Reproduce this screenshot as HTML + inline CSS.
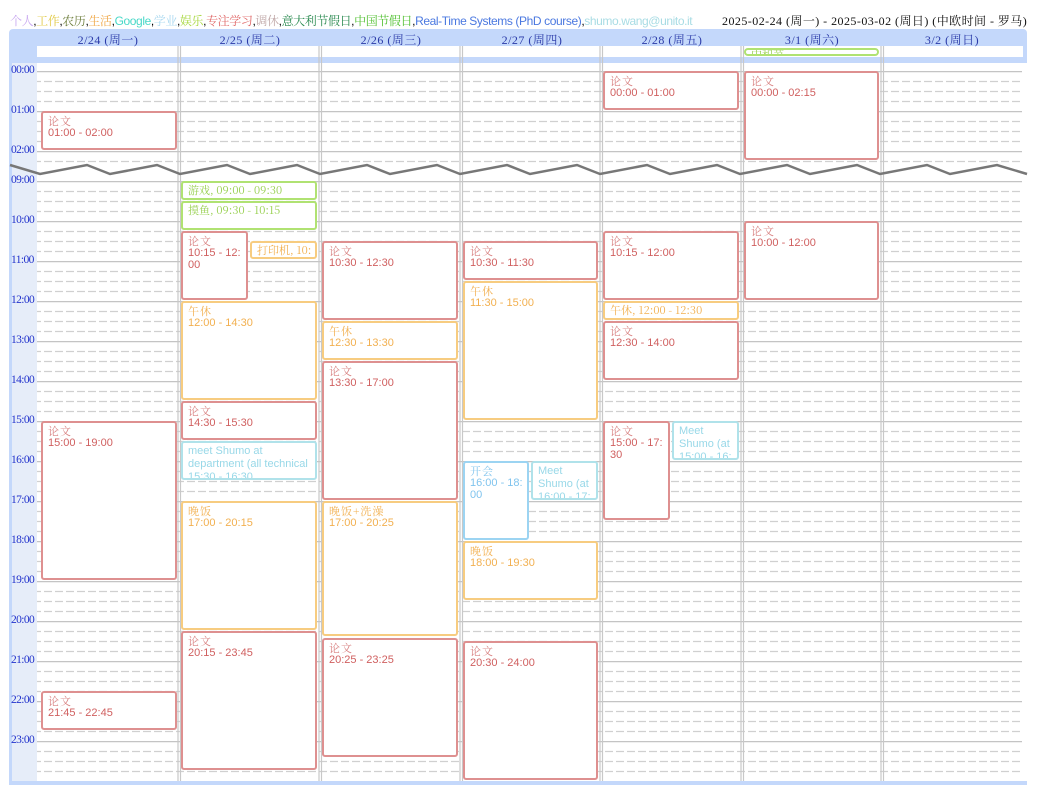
<!DOCTYPE html>
<html><head><meta charset="utf-8"><style>
*{box-sizing:border-box;margin:0;padding:0}
body{width:1043px;height:802px;background:#fff;position:relative;overflow:hidden;font-family:"Liberation Sans","Noto Sans CJK SC",sans-serif}
.abs{position:absolute}
.leg{left:10px;top:12px;font-size:12px;white-space:nowrap;font-family:"Liberation Sans","Noto Serif CJK SC",sans-serif;letter-spacing:-0.4px}
.rng{left:722px;top:12px;font-size:12px;white-space:nowrap;font-family:"Liberation Serif","Noto Serif CJK SC",serif;color:#111;letter-spacing:0.45px}
.dh{top:31px;width:140px;text-align:center;font-size:12px;color:#2a3aa8;font-family:"Liberation Serif","Noto Serif CJK SC",serif;letter-spacing:0.5px}
.tl{left:11px;font-size:11.5px;color:#2233cc;font-family:"Liberation Serif",serif;letter-spacing:-0.6px}
.ev{position:absolute;border:2px solid;border-radius:3px;background:#fff;overflow:hidden;padding:2px 0 0 5px;font-size:11px;line-height:12px;font-family:"Liberation Sans","Noto Serif CJK SC",sans-serif}
.ev b{font-weight:normal;display:block;font-family:"Noto Serif CJK SC",serif;letter-spacing:1px}
.r{border-color:#de9090;color:#d06060}
.r b{color:#d88080}
.o{border-color:#f7cc80;color:#f2b050}
.g{border-color:#b0e272;color:#98d050}
.c{border-color:#b0e2ea;color:#98d8e8}
.bl{border-color:#9cd4f2;color:#80c4ee}
.in{white-space:nowrap;font-family:"Noto Serif CJK SC",serif;padding-top:1px}
</style></head><body>
<div class="abs leg"><span style="color:#c8a8f0">个人</span>,<span style="color:#e0c840">工作</span>,<span style="color:#708040">农历</span>,<span style="color:#f0a848">生活</span>,<span style="color:#48d8c8">Google</span>,<span style="color:#a8d8f0">学业</span>,<span style="color:#a8d840">娱乐</span>,<span style="color:#e06868">专注学习</span>,<span style="color:#c0a8a8">调休</span>,<span style="color:#2a8a50">意大利节假日</span>,<span style="color:#50c030">中国节假日</span>,<span style="color:#4a78e0">Real-Time Systems (PhD course)</span>,<span style="color:#a8dce4">shumo.wang@unito.it</span></div>
<div class="abs rng">2025-02-24 (周一) - 2025-03-02 (周日) (中欧时间 - 罗马)</div>

<div class="abs" style="left:9px;top:29px;width:1018px;height:34px;background:#c4d8fb;border-radius:4px 4px 0 0"></div>
<div class="abs" style="left:37px;top:46px;width:986px;height:11px;background:#fff"></div>
<div class="abs" style="left:9px;top:63px;width:3px;height:722px;background:#c4d8fb"></div>
<div class="abs" style="left:12px;top:63px;width:25px;height:718px;background:#e6edf9"></div>
<div class="abs" style="left:9px;top:781px;width:1018px;height:4px;background:#c4d8fb"></div>

<div class="abs dh" style="left:38px">2/24 (周一)</div>
<div class="abs dh" style="left:180px">2/25 (周二)</div>
<div class="abs dh" style="left:321px">2/26 (周三)</div>
<div class="abs dh" style="left:462px">2/27 (周四)</div>
<div class="abs dh" style="left:602px">2/28 (周五)</div>
<div class="abs dh" style="left:742px">3/1 (周六)</div>
<div class="abs dh" style="left:882px">3/2 (周日)</div>

<svg class="abs" style="left:0;top:0" width="1043" height="802">
<defs>
<pattern id="gp" x="0" y="71" width="1043" height="40" patternUnits="userSpaceOnUse">
<line x1="0" y1="0.5" x2="1043" y2="0.5" stroke="#c4c4c4" stroke-width="1.5"/>
<line x1="0" y1="10.5" x2="1043" y2="10.5" stroke="#d0d0d0" stroke-width="1.2" stroke-dasharray="8,3"/>
<line x1="0" y1="20.5" x2="1043" y2="20.5" stroke="#d0d0d0" stroke-width="1.2" stroke-dasharray="8,3"/>
<line x1="0" y1="30.5" x2="1043" y2="30.5" stroke="#d0d0d0" stroke-width="1.2" stroke-dasharray="8,3"/>
</pattern>
<pattern id="gp2" x="0" y="181" width="1043" height="40" patternUnits="userSpaceOnUse">
<line x1="0" y1="0.5" x2="1043" y2="0.5" stroke="#c4c4c4" stroke-width="1.5"/>
<line x1="0" y1="10.5" x2="1043" y2="10.5" stroke="#d0d0d0" stroke-width="1.2" stroke-dasharray="8,3"/>
<line x1="0" y1="20.5" x2="1043" y2="20.5" stroke="#d0d0d0" stroke-width="1.2" stroke-dasharray="8,3"/>
<line x1="0" y1="30.5" x2="1043" y2="30.5" stroke="#d0d0d0" stroke-width="1.2" stroke-dasharray="8,3"/>
</pattern>
</defs>
<rect x="37" y="70" width="985" height="95" fill="url(#gp)"/>
<rect x="37" y="180" width="985" height="600" fill="url(#gp2)"/>
<g stroke="#c8c8c8" stroke-width="1.2">
<line x1="178" y1="46" x2="178" y2="781"/><line x1="180.5" y1="46" x2="180.5" y2="781"/>
<line x1="319" y1="46" x2="319" y2="781"/><line x1="321.5" y1="46" x2="321.5" y2="781"/>
<line x1="460" y1="46" x2="460" y2="781"/><line x1="462.5" y1="46" x2="462.5" y2="781"/>
<line x1="600" y1="46" x2="600" y2="781"/><line x1="602.5" y1="46" x2="602.5" y2="781"/>
<line x1="741" y1="46" x2="741" y2="781"/><line x1="743.5" y1="46" x2="743.5" y2="781"/>
<line x1="881" y1="46" x2="881" y2="781"/><line x1="883.5" y1="46" x2="883.5" y2="781"/>
</g>
<polyline fill="none" stroke="#777" stroke-width="2.5" points="10,165 40,174 87,165 110,174 157,165 180,174 227,165 250,174 297,165 320,174 367,165 390,174 437,165 460,174 507,165 530,174 577,165 600,174 647,165 670,174 717,165 740,174 787,165 810,174 857,165 880,174 927,165 950,174 997,165 1027,174"/>
</svg>

<div class="abs tl" style="top:64px">00:00</div>
<div class="abs tl" style="top:104px">01:00</div>
<div class="abs tl" style="top:144px">02:00</div>
<div class="abs tl" style="top:174px">09:00</div>
<div class="abs tl" style="top:214px">10:00</div>
<div class="abs tl" style="top:254px">11:00</div>
<div class="abs tl" style="top:294px">12:00</div>
<div class="abs tl" style="top:334px">13:00</div>
<div class="abs tl" style="top:374px">14:00</div>
<div class="abs tl" style="top:414px">15:00</div>
<div class="abs tl" style="top:454px">16:00</div>
<div class="abs tl" style="top:494px">17:00</div>
<div class="abs tl" style="top:534px">18:00</div>
<div class="abs tl" style="top:574px">19:00</div>
<div class="abs tl" style="top:614px">20:00</div>
<div class="abs tl" style="top:654px">21:00</div>
<div class="abs tl" style="top:694px">22:00</div>
<div class="abs tl" style="top:734px">23:00</div>

<div class="ev g in" style="left:744px;top:48px;width:135px;height:8px;padding:0 0 0 5px;line-height:9px;font-size:11px;border-radius:4px">中和节</div>

<!-- Day 0 -->
<div class="ev r" style="left:41px;top:111px;width:136px;height:39px"><b>论文</b>01:00 - 02:00</div>
<div class="ev r" style="left:41px;top:421px;width:136px;height:159px"><b>论文</b>15:00 - 19:00</div>
<div class="ev r" style="left:41px;top:691px;width:136px;height:39px"><b>论文</b>21:45 - 22:45</div>

<!-- Day 1 -->
<div class="ev g in" style="left:181px;top:181px;width:136px;height:19px">游戏, 09:00 - 09:30</div>
<div class="ev g in" style="left:181px;top:201px;width:136px;height:29px">摸鱼, 09:30 - 10:15</div>
<div class="ev r" style="left:181px;top:231px;width:67px;height:69px"><b>论文</b>10:15 - 12:<br>00</div>
<div class="ev o in" style="left:250px;top:241px;width:67px;height:18px">打印机, 10:</div>
<div class="ev o" style="left:181px;top:301px;width:136px;height:99px"><b>午休</b>12:00 - 14:30</div>
<div class="ev r" style="left:181px;top:401px;width:136px;height:39px"><b>论文</b>14:30 - 15:30</div>
<div class="ev c" style="left:181px;top:441px;width:136px;height:39px;line-height:13px">meet Shumo at<br>department (all technical<br>15:30 - 16:30</div>
<div class="ev o" style="left:181px;top:501px;width:136px;height:129px"><b>晚饭</b>17:00 - 20:15</div>
<div class="ev r" style="left:181px;top:631px;width:136px;height:139px"><b>论文</b>20:15 - 23:45</div>

<!-- Day 2 -->
<div class="ev r" style="left:322px;top:241px;width:136px;height:79px"><b>论文</b>10:30 - 12:30</div>
<div class="ev o" style="left:322px;top:321px;width:136px;height:39px"><b>午休</b>12:30 - 13:30</div>
<div class="ev r" style="left:322px;top:361px;width:136px;height:139px"><b>论文</b>13:30 - 17:00</div>
<div class="ev o" style="left:322px;top:501px;width:136px;height:135px"><b>晚饭+洗澡</b>17:00 - 20:25</div>
<div class="ev r" style="left:322px;top:638px;width:136px;height:119px"><b>论文</b>20:25 - 23:25</div>

<!-- Day 3 -->
<div class="ev r" style="left:463px;top:241px;width:135px;height:39px"><b>论文</b>10:30 - 11:30</div>
<div class="ev o" style="left:463px;top:281px;width:135px;height:139px"><b>午休</b>11:30 - 15:00</div>
<div class="ev bl" style="left:463px;top:461px;width:66px;height:79px"><b>开会</b>16:00 - 18:<br>00</div>
<div class="ev c" style="left:531px;top:461px;width:67px;height:39px;line-height:13px">Meet<br>Shumo (at<br>16:00 - 17:</div>
<div class="ev o" style="left:463px;top:541px;width:135px;height:59px"><b>晚饭</b>18:00 - 19:30</div>
<div class="ev r" style="left:463px;top:641px;width:135px;height:139px"><b>论文</b>20:30 - 24:00</div>

<!-- Day 4 -->
<div class="ev r" style="left:603px;top:71px;width:136px;height:39px"><b>论文</b>00:00 - 01:00</div>
<div class="ev r" style="left:603px;top:231px;width:136px;height:69px"><b>论文</b>10:15 - 12:00</div>
<div class="ev o in" style="left:603px;top:301px;width:136px;height:19px">午休, 12:00 - 12:30</div>
<div class="ev r" style="left:603px;top:321px;width:136px;height:59px"><b>论文</b>12:30 - 14:00</div>
<div class="ev r" style="left:603px;top:421px;width:67px;height:99px"><b>论文</b>15:00 - 17:<br>30</div>
<div class="ev c" style="left:672px;top:421px;width:67px;height:39px;line-height:13px">Meet<br>Shumo (at<br>15:00 - 16:</div>

<!-- Day 5 -->
<div class="ev r" style="left:744px;top:71px;width:135px;height:89px"><b>论文</b>00:00 - 02:15</div>
<div class="ev r" style="left:744px;top:221px;width:135px;height:79px"><b>论文</b>10:00 - 12:00</div>
</body></html>
